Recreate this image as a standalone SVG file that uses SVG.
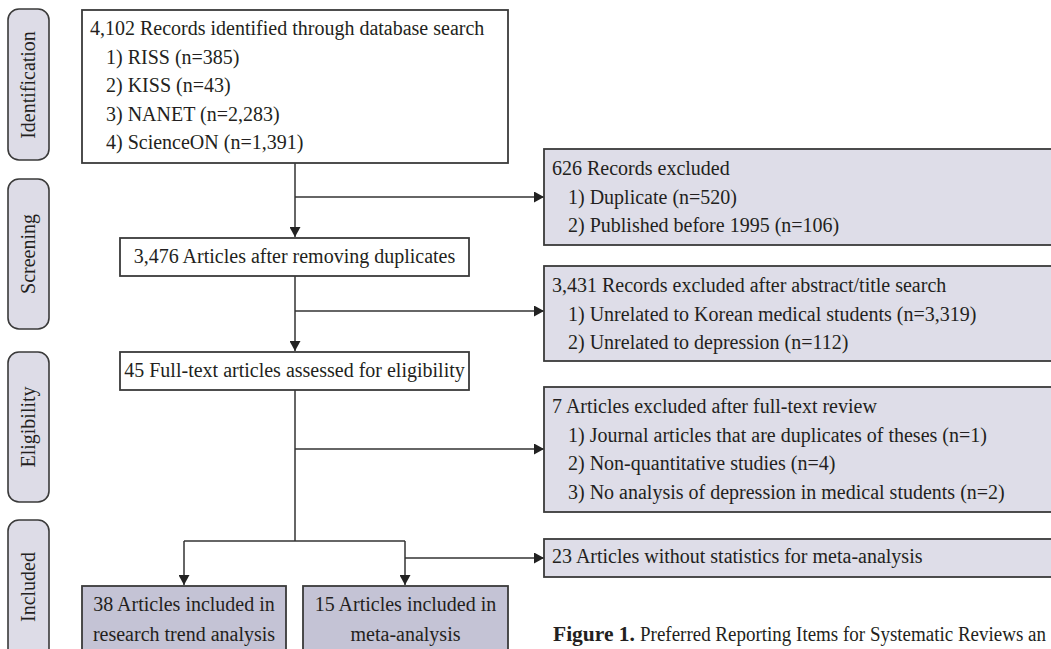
<svg xmlns="http://www.w3.org/2000/svg" width="1051" height="649" viewBox="0 0 1051 649">
<style>
text{font-family:"Liberation Serif","Times New Roman",serif;font-size:20px;fill:#231f20}
.pill{fill:#dddce7;stroke:#3a3a3a;stroke-width:1.6}
.box{fill:#ffffff;stroke:#3a3a3a;stroke-width:1.8}
.ex{fill:#dedde8;stroke:#3a3a3a;stroke-width:1.8}
.inc{fill:#c4c3d5;stroke:#3a3a3a;stroke-width:1.8}
.ln{fill:none;stroke:#333333;stroke-width:1.5}
.c{text-anchor:middle}
.bold{font-weight:bold}
</style>
<defs>
<marker id="ah" markerUnits="userSpaceOnUse" markerWidth="10" markerHeight="11" refX="10" refY="5.5" orient="auto">
<path d="M0,0 L10,5.5 L0,11 z" fill="#222222"/>
</marker>
</defs>

<g id="stage-identification">
<rect class="pill" x="8" y="9" width="41" height="151" rx="11"/>
<text class="c" transform="translate(35,85) rotate(-90)">Identification</text>
</g>
<g id="stage-screening">
<rect class="pill" x="8" y="179" width="41" height="150" rx="11"/>
<text class="c" transform="translate(35,254) rotate(-90)">Screening</text>
</g>
<g id="stage-eligibility">
<rect class="pill" x="8" y="352" width="41" height="150" rx="11"/>
<text class="c" transform="translate(35,427) rotate(-90)">Eligibility</text>
</g>
<g id="stage-included">
<rect class="pill" x="8" y="520" width="41" height="150" rx="11"/>
<text class="c" transform="translate(35,587) rotate(-90)">Included</text>
</g>

<g id="connectors">
<path class="ln" d="M295,163 V237" marker-end="url(#ah)"/>
<path class="ln" d="M295,197 H544" marker-end="url(#ah)"/>
<path class="ln" d="M295,276 V351" marker-end="url(#ah)"/>
<path class="ln" d="M295,311 H544" marker-end="url(#ah)"/>
<path class="ln" d="M295,390 V541"/>
<path class="ln" d="M295,449 H544" marker-end="url(#ah)"/>
<path class="ln" d="M184,541 H405"/>
<path class="ln" d="M184,541 V585" marker-end="url(#ah)"/>
<path class="ln" d="M405,541 V585" marker-end="url(#ah)"/>
<path class="ln" d="M405,558 H544" marker-end="url(#ah)"/>
</g>

<g id="records-identified">
<rect class="box" x="82" y="10" width="426" height="153"/>
<text x="90" y="35">4,102 Records identified through database search</text>
<text x="106" y="64">1) RISS (n=385)</text>
<text x="106" y="92">2) KISS (n=43)</text>
<text x="106" y="121">3) NANET (n=2,283)</text>
<text x="106" y="149">4) ScienceON (n=1,391)</text>
</g>

<g id="records-excluded">
<rect class="ex" x="544" y="149" width="520" height="96"/>
<text x="552" y="175">626 Records excluded</text>
<text x="568" y="204">1) Duplicate (n=520)</text>
<text x="568" y="232">2) Published before 1995 (n=106)</text>
</g>

<g id="after-duplicates">
<rect class="box" x="120" y="238" width="349" height="38"/>
<text class="c" x="294.5" y="263">3,476 Articles after removing duplicates</text>
</g>

<g id="abstract-excluded">
<rect class="ex" x="544" y="266" width="520" height="95"/>
<text x="552" y="292">3,431 Records excluded after abstract/title search</text>
<text x="568" y="321">1) Unrelated to Korean medical students (n=3,319)</text>
<text x="568" y="349">2) Unrelated to depression (n=112)</text>
</g>

<g id="full-text-assessed">
<rect class="box" x="120" y="352" width="349" height="38"/>
<text class="c" x="294.5" y="377">45 Full-text articles assessed for eligibility</text>
</g>

<g id="full-text-excluded">
<rect class="ex" x="544" y="387" width="520" height="125"/>
<text x="552" y="413">7 Articles excluded after full-text review</text>
<text x="568" y="442">1) Journal articles that are duplicates of theses (n=1)</text>
<text x="568" y="470">2) Non-quantitative studies (n=4)</text>
<text x="568" y="499">3) No analysis of depression in medical students (n=2)</text>
</g>

<g id="without-statistics">
<rect class="ex" x="544" y="539" width="520" height="38"/>
<text x="552" y="563">23 Articles without statistics for meta-analysis</text>
</g>

<g id="trend-analysis">
<rect class="inc" x="82" y="586" width="204" height="90"/>
<text class="c" x="184" y="611">38 Articles included in</text>
<text class="c" x="184" y="641">research trend analysis</text>
</g>

<g id="meta-analysis">
<rect class="inc" x="303" y="586" width="205" height="90"/>
<text class="c" x="405.5" y="611">15 Articles included in</text>
<text class="c" x="405.5" y="641">meta-analysis</text>
</g>

<g id="caption">
<text class="bold" x="553" y="641" textLength="82" lengthAdjust="spacingAndGlyphs">Figure 1.</text>
<text x="640" y="641" font-size="19.5" textLength="406" lengthAdjust="spacingAndGlyphs">Preferred Reporting Items for Systematic Reviews an</text>
</g>
</svg>
